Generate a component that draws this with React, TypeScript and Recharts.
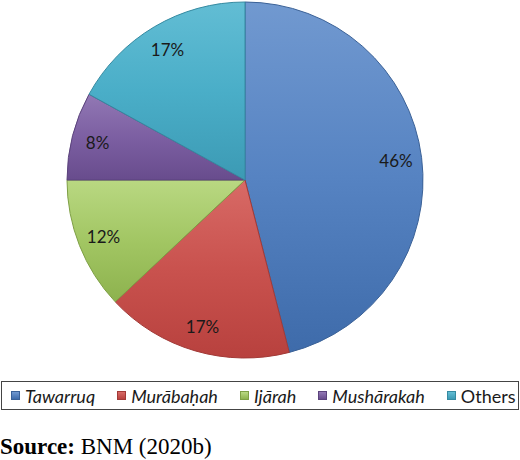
import React from "react";
import { PieChart, Pie, Cell, Legend } from "recharts";

const categories = ["Tawarruq", "Murābaḥah", "Ijārah", "Mushārakah", "Others"];
const shares = [46, 17, 12, 8, 17];
const italicFlags = [true, true, true, true, false];
const colorsTop = ["#7199D0", "#D86A66", "#B9D882", "#9278B4", "#62BDD4"];
const colorsMid = ["#5683C2", "#C9524E", "#A2C663", "#7C5FA2", "#4AAEC8"];
const colorsBottom = ["#3E6BAA", "#B8413E", "#8DB24E", "#684C8D", "#3C9AB4"];
const strokes = ["#3A6197", "#A23A37", "#7E9F45", "#5B437C", "#358AA1"];

const data = categories.map((name, i) => ({ name, value: shares[i], italic: italicFlags[i] }));

const RAD = Math.PI / 180;
const FONT = "Lato, 'Open Sans', sans-serif";

const renderLabel = (props: any) => {
  const { cx, cy, midAngle, outerRadius, value } = props;
  const r = outerRadius * 0.855;
  const x = cx + r * Math.cos(-midAngle * RAD);
  const y = cy + r * Math.sin(-midAngle * RAD);
  return (
    <text
      x={x}
      y={y}
      fill="#1a1a1a"
      fontSize={17}
      fontFamily={FONT}
      textAnchor="middle"
      dominantBaseline="central"
    >
      {`${value}%`}
    </text>
  );
};

const renderLegend = () => (
  <div
    style={{
      boxSizing: "border-box",
      width: 518,
      height: 29,
      border: "1.5px solid #444",
      display: "flex",
      alignItems: "center",
      paddingLeft: 9,
      fontFamily: FONT,
      fontSize: 18,
      color: "#1a1a1a",
      background: "#fff",
    }}
  >
    {data.map((d, i) => (
      <div
        key={d.name}
        style={{ display: "flex", alignItems: "center", marginRight: i < data.length - 1 ? 22 : 0 }}
      >
        <span
          style={{
            display: "inline-block",
            width: 9,
            height: 9,
            marginRight: 5,
            background: `linear-gradient(${colorsTop[i]}, ${colorsBottom[i]})`,
            border: `1px solid ${strokes[i]}`,
            boxSizing: "border-box",
          }}
        />
        <span style={{ fontStyle: d.italic ? "italic" : "normal", lineHeight: "20px" }}>{d.name}</span>
      </div>
    ))}
  </div>
);

export default function App() {
  return (
    <div
      style={{
        position: "absolute",
        left: 0,
        top: 0,
        width: 520,
        height: 460,
        background: "#fff",
        overflow: "hidden",
      }}
    >
      <PieChart width={520} height={412} margin={{ top: 0, right: 0, bottom: 0, left: 0 }}>
        <defs>
          {data.map((d, i) => (
            <linearGradient key={d.name} id={`g${i}`} x1="0" y1="0" x2="0" y2="1">
              <stop offset="0%" stopColor={colorsTop[i]} />
              <stop offset="50%" stopColor={colorsMid[i]} />
              <stop offset="100%" stopColor={colorsBottom[i]} />
            </linearGradient>
          ))}
        </defs>
        <Pie
          data={data}
          dataKey="value"
          nameKey="name"
          cx={245}
          cy={180}
          outerRadius={178}
          startAngle={90}
          endAngle={-270}
          isAnimationActive={false}
          label={renderLabel}
          labelLine={false}
        >
          {data.map((d, i) => (
            <Cell key={d.name} fill={`url(#g${i})`} stroke={strokes[i]} strokeWidth={1} />
          ))}
        </Pie>
        <Legend
          content={renderLegend}
          wrapperStyle={{ position: "absolute", left: 1, top: 381, width: 518 }}
        />
      </PieChart>
      <div
        style={{
          position: "absolute",
          left: 0,
          top: 434,
          fontFamily: "'Liberation Serif', 'Times New Roman', serif",
          fontSize: 23,
          color: "#000",
          whiteSpace: "nowrap",
        }}
      >
        <b>Source:</b> BNM (2020b)
      </div>
    </div>
  );
}
